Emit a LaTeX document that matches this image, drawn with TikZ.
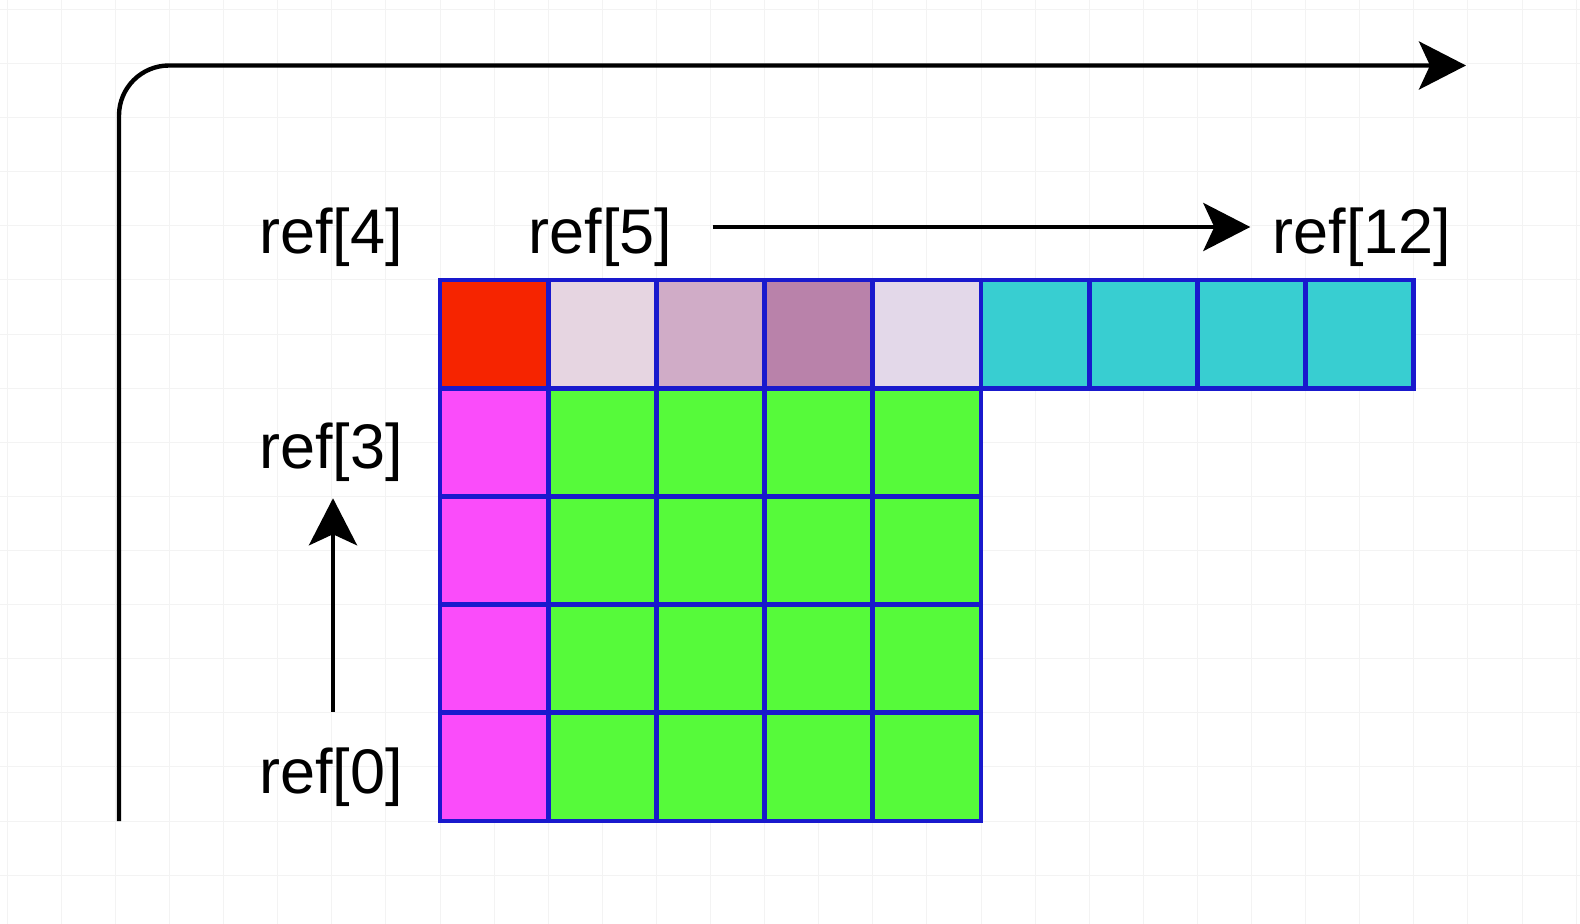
\documentclass[tikz,border=0pt]{standalone}
\usepackage{fontspec}
\setmainfont{Liberation Sans}
\usetikzlibrary{arrows.meta}

\definecolor{cellblue}{RGB}{25,25,205}
\definecolor{headred}{RGB}{246,36,0}
\definecolor{pinkA}{RGB}{230,213,225}
\definecolor{pinkB}{RGB}{208,172,199}
\definecolor{pinkC}{RGB}{185,130,170}
\definecolor{lavender}{RGB}{227,216,233}
\definecolor{tailcyan}{RGB}{56,206,209}
\definecolor{colmagenta}{RGB}{250,76,250}
\definecolor{bodygreen}{RGB}{86,250,58}
\definecolor{gridgray}{RGB}{243,243,243}

\begin{document}
\begin{tikzpicture}
          [x=0.5pt,y=-0.5pt,
           cell/.style={draw=cellblue,line width=2.4pt,shape=rectangle,inner sep=0,minimum size=54.1pt},
           lbl/.style={font=\fontsize{31.5}{38}\selectfont,inner sep=0},
           link/.style={line width=2.2pt,-{Stealth[length=23.5pt,width=24pt,inset=5.5pt]}}]

          \useasboundingbox (0,0) rectangle (1580,924);
          % background grid
          \foreach \k in {-8,...,21} \draw[gridgray,line width=0.5pt] ({440+54.1*\k},0) -- ({440+54.1*\k},924);
          \foreach \k in {-5,...,11} \draw[gridgray,line width=0.5pt] (0,{280+54.1*\k}) -- (1580,{280+54.1*\k});

          % top row
          \node[cell,fill=headred] (c0-0) at (494.1,334.1) {};
          \node[cell,fill=pinkA] (c0-1) at (602.3,334.1) {};
          \node[cell,fill=pinkB] (c0-2) at (710.5,334.1) {};
          \node[cell,fill=pinkC] (c0-3) at (818.7,334.1) {};
          \node[cell,fill=lavender] (c0-4) at (926.9,334.1) {};
          \node[cell,fill=tailcyan] (c0-5) at (1035.1,334.1) {};
          \node[cell,fill=tailcyan] (c0-6) at (1143.3,334.1) {};
          \node[cell,fill=tailcyan] (c0-7) at (1251.5,334.1) {};
          \node[cell,fill=tailcyan] (c0-8) at (1359.7,334.1) {};

          % lower block
          \foreach \r in {1,...,4} {
            \node[cell,fill=colmagenta] (c\r-0) at (494.1,{334.1+108.2*\r}) {};
            \foreach \c in {1,...,4}
              \node[cell,fill=bodygreen] (c\r-\c) at ({494.1+108.2*\c},{334.1+108.2*\r}) {};
          }

          \node[lbl] (ref4) at (331,237) {ref[4]};
          \node[lbl] (ref5) at (600.5,237) {ref[5]};
          \node[lbl] (ref12) at (1362,237) {ref[12]};
          \node[lbl] (ref3) at (331,452.5) {ref[3]};
          \node[lbl] (ref0) at (331,777) {ref[0]};

          \coordinate (axisstart) at (119,821);
          \coordinate (axisend) at (1466,65.5);

          \draw[link,rounded corners=25pt] (axisstart) |- (axisend);
          \draw[link,shorten <=20pt,shorten >=11pt] ([yshift=5pt]ref5.east) -- ([yshift=5pt]ref12.west);
          \draw[link,shorten <=17.5pt,shorten >=8pt] ([xshift=1pt]ref0.north) -- ([xshift=1pt]ref3.south);

        \end{tikzpicture}
\end{document}
